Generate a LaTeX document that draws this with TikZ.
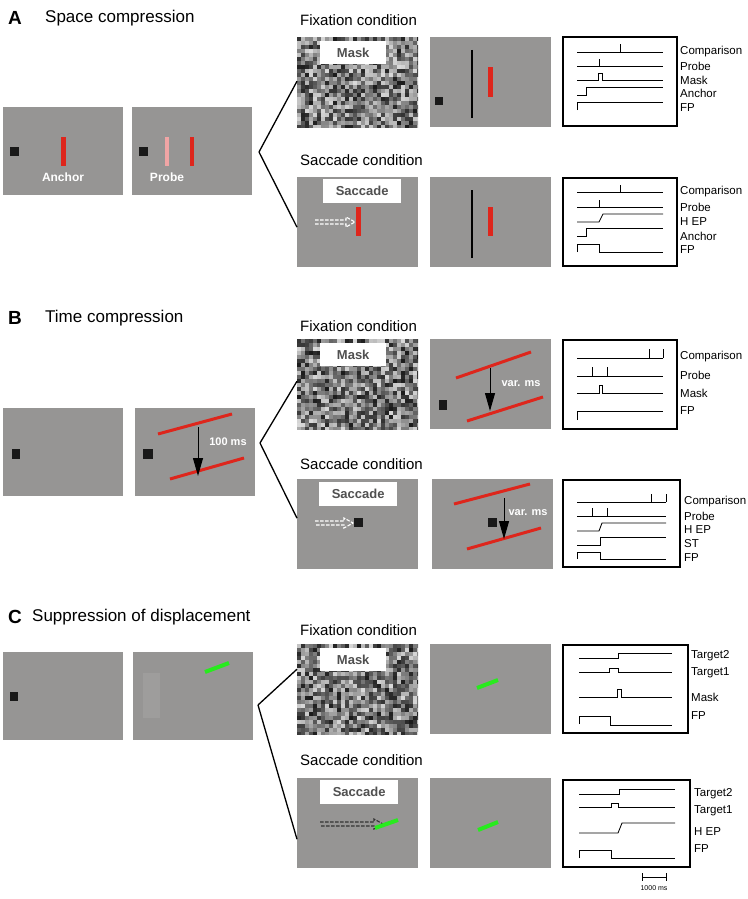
\documentclass[tikz,border=0pt]{standalone}
\usepackage{fontspec}
\setmainfont{Liberation Sans}
\usetikzlibrary{arrows.meta}
\definecolor{screengray}{RGB}{150,149,148}
\definecolor{ghostgray}{RGB}{158,157,156}
\definecolor{barred}{RGB}{222,38,28}
\definecolor{barpink}{RGB}{240,165,165}
\definecolor{bargreen}{RGB}{40,235,30}
\definecolor{taggray}{RGB}{80,80,80}

% random-dot mask filling a 121 x 90 screen, top-left corner at (#1,#2)
\newcommand{\masknoise}[2]{%
  \begin{scope}
    \clip (#1,#2) rectangle ++(121,90);
    \foreach \i in {0,...,30} {
      \foreach \j in {0,...,22} {
        \pgfmathsetmacro\g{int(15+75*rnd)}
        \fill[black!\g] ({#1+4*\i},{#2+4*\j}) rectangle ++(4.05,4.05);
      }
    }
  \end{scope}
}
% dashed saccade arrow: colour, start x, tip x, y
\newcommand{\saccarrow}[4]{%
  \draw[#1,line width=1.1pt,dash pattern=on 3.5pt off 1.5pt]
    (#2,{#4-2}) -- ({#3-9},{#4-2}) -- ({#3-9},{#4-5}) -- (#3,#4)
    -- ({#3-9},{#4+5}) -- ({#3-9},{#4+2}) -- (#2,{#4+2});
}

\begin{document}
\begin{tikzpicture}[x=1pt,y=-1pt,
    screen/.style={fill=screengray,inner sep=0pt,anchor=north west,
      minimum width=121pt,minimum height=90pt},
    leftscreen/.style={screen,minimum width=120pt,minimum height=88pt},
    fan/.style={line width=1.3pt},
    timebox/.style={draw,line width=1.6pt},
    trace/.style={line width=0.85pt},
    tlabel/.style={anchor=west,inner sep=0pt,font=\fontsize{11.5}{12}\selectfont},
    panel/.style={anchor=west,inner sep=0pt,font=\fontsize{19}{20}\selectfont\bfseries},
    ptitle/.style={anchor=west,inner sep=0pt,font=\fontsize{17}{18}\selectfont},
    cond/.style={anchor=west,inner sep=0pt,font=\fontsize{15}{16}\selectfont},
    tag/.style={fill=white,text=taggray,inner sep=0pt,anchor=north west,
      font=\fontsize{13}{14}\selectfont\bfseries},
    onscreen/.style={text=white,inner sep=0pt,font=\fontsize{12}{13}\selectfont\bfseries},
    timearrow/.style={line width=1pt,-{Triangle[length=18pt,width=10pt]}},
    redline/.style={barred,line width=3pt},
    greenbar/.style={bargreen,line width=4pt}]
  \useasboundingbox (0,0) rectangle (747,899);
  \pgfmathsetseed{7}

  % ---------------- A: space compression ----------------
  \node[panel] (alabel) at (8,18) {A};
  \node[ptitle] (atitle) at (45,18) {Space compression};
  \node[leftscreen] (aleft1) at (3,107) {};
  \node[leftscreen] (aleft2) at (132,107) {};
  \fill[black!90] (10,147) rectangle (19,156);
  \fill[barred] (61,137) rectangle (66,166);
  \node[onscreen] (anchortxt) at (63,177) {Anchor};
  \fill[black!90] (139,147) rectangle (148,156);
  \fill[barpink] (165,137) rectangle (169,166);
  \fill[barred] (190,137) rectangle (194,166);
  \node[onscreen] (probetxt) at (167,177) {Probe};
  \coordinate (afan) at (259,152);
  \node[cond] (afixcond) at (300,20) {Fixation condition};
  \node[screen] (afixmask) at (297,37) {};
  \masknoise{297}{37}
  \node[tag,minimum width=66pt,minimum height=23pt] (amasktag) at (320,41) {Mask};
  \node[screen] (afixtest) at (430,37) {};
  \draw[line width=2.5pt] (472,50) -- (472,118);
  \fill[barred] (488,67) rectangle (493,97);
  \fill[black!90] (435,97) rectangle (443,105);
  \node[cond] (asaccond) at (300,160) {Saccade condition};
  \node[screen] (asacmask) at (297,177) {};
  \node[tag,minimum width=78pt,minimum height=24pt] (asactag) at (323,179) {Saccade};
  \saccarrow{white}{315}{355}{222}
  \fill[barred] (356,207) rectangle (361,236);
  \node[screen] (asactest) at (430,177) {};
  \draw[line width=2.5pt] (472,190) -- (472,258);
  \fill[barred] (488,207) rectangle (493,236);
  \draw[fan] (afan) -- ([yshift=1pt]afixmask.west);
  \draw[fan] (afan) -- ([yshift=-5pt]asacmask.west);
  % timing, fixation
  \draw[timebox] (563,37) rectangle (677,126);
  \draw[trace] (577,52) -- (663,52) (620,52) -- (620,44);
  \draw[trace] (577,66) -- (663,66) (599,66) -- (599,59);
  \draw[trace] (577,80) -- (598,80) -- (598,73) -- (602,73) -- (602,80) -- (663,80);
  \draw[trace] (577,95) -- (586,95) -- (586,87) -- (663,87);
  \draw[trace] (577,110) -- (577,102) -- (663,102);
  \foreach \y/\t in {52/Comparison,66/Probe,80/Mask,93/Anchor,108/FP} {
    \fill (677,\y) circle (0.8);
    \node[tlabel] at (680,\y) {\t};
  }
  % timing, saccade
  \draw[timebox] (563,178) rectangle (677,266);
  \draw[trace] (577,192) -- (663,192) (620,192) -- (620,185);
  \draw[trace] (577,207) -- (663,207) (599,207) -- (599,200);
  \draw[trace] (577,222) -- (599,222) -- (603,214) -- (663,214);
  \draw[trace] (577,236) -- (586,236) -- (586,228) -- (663,228);
  \draw[trace] (577,252) -- (577,244) -- (599,244) -- (599,252) -- (663,252);
  \foreach \y/\t in {192/Comparison,207/Probe,222/H EP,236/Anchor,250/FP} {
    \fill (677,\y) circle (0.8);
    \node[tlabel] at (680,\y) {\t};
  }

  % ---------------- B: time compression ----------------
  \node[panel] (blabel) at (8,318) {B};
  \node[ptitle] (btitle) at (45,318) {Time compression};
  \node[leftscreen] (bleft1) at (3,408) {};
  \node[leftscreen] (bleft2) at (135,408) {};
  \fill[black!90] (12,449) rectangle (20,459);
  \fill[black!90] (143,449) rectangle (153,459);
  \draw[redline] (158,434) -- (232,414);
  \draw[redline] (170,479) -- (244,458);
  \draw[timearrow] (198,427) -- (198,476);
  \node[onscreen,font=\fontsize{11}{12}\selectfont\bfseries] (b100) at (228,442) {100 ms};
  \coordinate (bfan) at (260,443);
  \node[cond] (bfixcond) at (300,326) {Fixation condition};
  \node[screen] (bfixmask) at (297,339) {};
  \masknoise{297}{339}
  \node[tag,minimum width=66pt,minimum height=23pt] (bmasktag) at (320,343) {Mask};
  \node[screen] (bfixtest) at (430,339) {};
  \draw[redline] (456,378) -- (531,352);
  \draw[redline] (467,421) -- (543,397);
  \fill[black!90] (439,400) rectangle (447,410);
  \draw[timearrow] (490,368) -- (490,411);
  \node[onscreen,font=\fontsize{11}{12}\selectfont\bfseries] (bvar1) at (521,384) {var. ms};
  \node[cond] (bsaccond) at (300,464) {Saccade condition};
  \node[screen] (bsacmask) at (297,479) {};
  \node[tag,minimum width=78pt,minimum height=24pt] (bsactag) at (319,482) {Saccade};
  \saccarrow{white}{315}{353}{523}
  \fill[black!90] (354,518) rectangle (363,527);
  \node[screen] (bsactest) at (432,479) {};
  \draw[redline] (454,504) -- (530,484);
  \draw[redline] (467,549) -- (541,528);
  \fill[black!90] (488,518) rectangle (497,527);
  \draw[timearrow] (504,498) -- (504,539);
  \node[onscreen,font=\fontsize{11}{12}\selectfont\bfseries] (bvar2) at (528,513) {var. ms};
  \draw[fan] (bfan) -- ([yshift=3pt]bfixmask.west);
  \draw[fan] (bfan) -- ([yshift=6pt]bsacmask.west);
  % timing, fixation
  \draw[timebox] (563,340) rectangle (677,429);
  \draw[trace] (577,358) -- (663,358) (649,358) -- (649,349) (663,358) -- (663,349);
  \draw[trace] (577,376) -- (663,376) (592,376) -- (592,367) (607,376) -- (607,367);
  \draw[trace] (577,393) -- (599,393) -- (599,385) -- (602,385) -- (602,393) -- (663,393);
  \draw[trace] (577,420) -- (577,411) -- (663,411);
  \foreach \y/\t in {357/Comparison,375/Probe,393/Mask,411/FP} {
    \fill (677,\y) circle (0.8);
    \node[tlabel] at (680,\y) {\t};
  }
  % timing, saccade
  \draw[timebox] (563,480) rectangle (680,567);
  \draw[trace] (577,502) -- (666,502) (651,502) -- (651,494) (666,502) -- (666,494);
  \draw[trace] (577,516) -- (666,516) (592,516) -- (592,508) (607,516) -- (607,508);
  \draw[trace] (577,531) -- (599,531) -- (602,523) -- (666,523);
  \draw[trace] (577,545) -- (600,545) -- (600,537) -- (666,537);
  \draw[trace] (577,559) -- (577,552) -- (600,552) -- (600,559) -- (666,559);
  \foreach \y/\t in {502/Comparison,516/Probe,530/H EP,544/ST,558/FP} {
    \fill (680,\y) circle (0.8);
    \node[tlabel] at (684,\y) {\t};
  }

  % ---------------- C: suppression of displacement ----------------
  \node[panel] (clabel) at (8,617) {C};
  \node[ptitle] (ctitle) at (32,617) {Suppression of displacement};
  \node[leftscreen] (cleft1) at (3,652) {};
  \node[leftscreen] (cleft2) at (133,652) {};
  \fill[black!90] (10,692) rectangle (18,701);
  \fill[ghostgray] (143,673) rectangle (160,718);
  \draw[greenbar] (205,672) -- (229,663);
  \coordinate (cfan) at (258,705);
  \node[cond] (cfixcond) at (300,630) {Fixation condition};
  \node[screen] (cfixmask) at (297,644) {};
  \masknoise{297}{644}
  \node[tag,minimum width=66pt,minimum height=23pt] (cmasktag) at (320,648) {Mask};
  \node[screen] (cfixtest) at (430,644) {};
  \draw[greenbar] (477,688) -- (498,680);
  \node[cond] (csaccond) at (300,760) {Saccade condition};
  \node[screen] (csacmask) at (297,778) {};
  \node[tag,minimum width=78pt,minimum height=24pt] (csactag) at (320,780) {Saccade};
  \saccarrow{black!80}{320}{383}{824}
  \draw[greenbar] (375,828) -- (398,820);
  \node[screen] (csactest) at (430,778) {};
  \draw[greenbar] (478,830) -- (498,822);
  \draw[fan] (cfan) -- ([yshift=20pt]cfixmask.west);
  \draw[fan] (cfan) -- ([yshift=-16pt]csacmask.west);
  % timing, fixation
  \draw[timebox] (563,645) rectangle (688,733);
  \draw[trace] (579,658) -- (618,658) -- (618,653) -- (672,653);
  \draw[trace] (579,672) -- (609,672) -- (609,668) -- (618,668) -- (618,672) -- (672,672);
  \draw[trace] (579,697) -- (617,697) -- (617,689) -- (621,689) -- (621,697) -- (672,697);
  \draw[trace] (579,724) -- (579,716) -- (610,716) -- (610,725) -- (672,725);
  \foreach \y/\t in {656/Target2,673/Target1,697/Mask,716/FP} {
    \fill (688,\y) circle (0.8);
    \node[tlabel] at (691,\y) {\t};
  }
  % timing, saccade
  \draw[timebox] (563,780) rectangle (690,867);
  \draw[trace] (579,794) -- (619,794) -- (619,789) -- (675,789);
  \draw[trace] (579,807) -- (611,807) -- (611,803) -- (618,803) -- (618,807) -- (675,807);
  \draw[trace] (579,833) -- (618,833) -- (622,823) -- (675,823);
  \draw[trace] (579,858) -- (579,850) -- (611,850) -- (611,858) -- (675,858);
  \foreach \y/\t in {794/Target2,811/Target1,832/H EP,849/FP} {
    \fill (690,\y) circle (0.8);
    \node[tlabel] at (694,\y) {\t};
  }
  % scale bar
  \draw[line width=1pt] (642,877) -- (666,877) (642,873) -- (642,881) (666,873) -- (666,881);
  \node[inner sep=0pt,font=\fontsize{7}{8}\selectfont] (scaletxt) at (654,888) {1000 ms};
\end{tikzpicture}
\end{document}
